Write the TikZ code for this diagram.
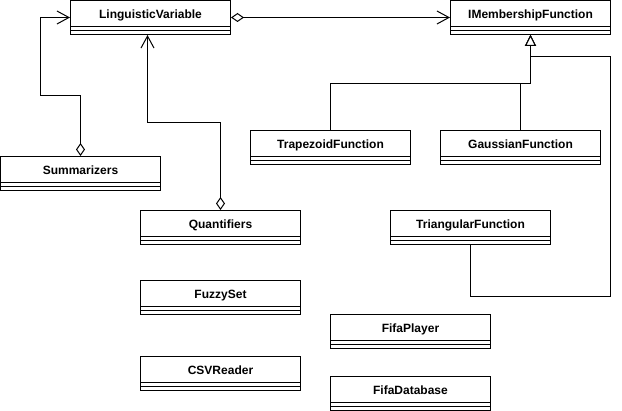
\documentclass[tikz,border=0pt]{standalone}
\usepackage{fontspec}
\setmainfont{Liberation Sans}
\usetikzlibrary{arrows.meta}
\tikzset{
  umlclass/.style={draw, line width=1pt, minimum width=160pt, minimum height=34pt,
    inner xsep=0pt, inner ysep=0pt, text height=17.8pt, text depth=16.2pt,
    font=\fontsize{12}{14}\selectfont\bfseries,
    path picture={
      \draw[line width=1pt] ([yshift=-26pt]path picture bounding box.north west) -- ([yshift=-26pt]path picture bounding box.north east);
      \draw[line width=1pt] ([yshift=-30pt]path picture bounding box.north west) -- ([yshift=-30pt]path picture bounding box.north east);
    }},
  conn/.style={line width=1pt},
  aggr/.style={conn, {Diamond[open,length=13pt,width=9pt]}-{Straight Barb[length=12pt,width=13pt]}},
  inherit/.style={conn, -{Triangle[open,length=11pt,width=11pt,fill=white]}}
}
\begin{document}
\begin{tikzpicture}[x=1pt,y=-1pt]
\useasboundingbox (-0.5,-0.5) rectangle (621.5,410.5);
\node[umlclass] (lv) at (150,17) {LinguisticVariable};
\node[umlclass] (imf) at (530,17) {IMembershipFunction};
\node[umlclass] (summ) at (80,173) {Summarizers};
\node[umlclass] (quant) at (220,227) {Quantifiers};
\node[umlclass] (fuzzy) at (220,297) {FuzzySet};
\node[umlclass] (csv) at (220,373) {CSVReader};
\node[umlclass] (trap) at (330,147) {TrapezoidFunction};
\node[umlclass] (gauss) at (520,147) {GaussianFunction};
\node[umlclass] (tri) at (470,227) {TriangularFunction};
\node[umlclass] (player) at (410,331) {FifaPlayer};
\node[umlclass] (db) at (410,393) {FifaDatabase};
\coordinate (sb) at (40,95);
\coordinate (qb) at (147,122);
\coordinate (j1) at (530,83);
\coordinate (c1) at (610,296);
\coordinate (c2) at (530,56);
\draw[aggr] (summ.north) |- (sb) |- (lv.west);
\draw[aggr] (quant.north) |- (qb) -- (qb |- lv.south);
\draw[aggr] (lv.east) -- (imf.west);
\draw[inherit] (trap.north) |- (j1) -- (imf.south);
\draw[inherit] (gauss.north) -- (gauss.north |- j1) -| (imf.south);
\draw[inherit] (tri.south) |- (c1) |- (c2) -- (imf.south);
\end{tikzpicture}
\end{document}
